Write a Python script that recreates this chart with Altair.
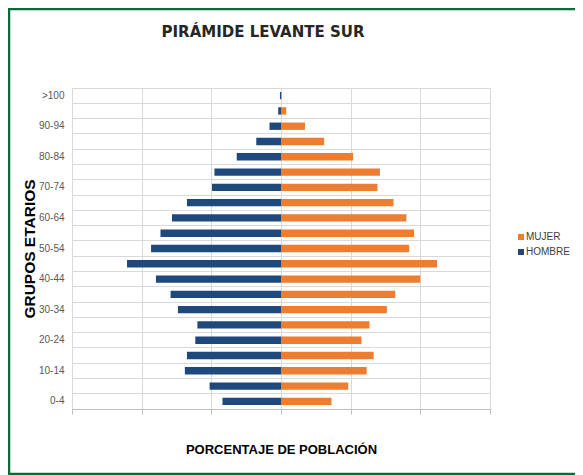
import altair as alt
import pandas as pd

ages = ["0-4", "5-9", "10-14", "15-19", "20-24", "25-29", "30-34", "35-39",
        "40-44", "45-49", "50-54", "55-59", "60-64", "65-69", "70-74", "75-79",
        "80-84", "85-89", "90-94", "95-99", ">100"]
hombre = [1.68, 2.05, 2.76, 2.70, 2.46, 2.40, 2.96, 3.17, 3.59, 4.42, 3.73,
          3.46, 3.13, 2.70, 1.98, 1.91, 1.27, 0.71, 0.33, 0.08, 0.03]
mujer = [1.45, 1.93, 2.46, 2.66, 2.31, 2.54, 3.04, 3.28, 4.00, 4.48, 3.68,
         3.82, 3.60, 3.23, 2.77, 2.84, 2.07, 1.24, 0.69, 0.15, 0.02]
shown_labels = ["0-4", "10-14", "20-24", "30-34", "40-44", "50-54", "60-64",
                "70-74", "80-84", "90-94", ">100"]
x_ticks = [-6, -4, -2, 0, 2, 4, 6]
series = ["MUJER", "HOMBRE"]
colors = ["#ED7D31", "#1F497D"]

rows = []
for a, h, m in zip(ages, hombre, mujer):
    rows.append({"edad": a, "sexo": "HOMBRE", "valor": -h})
    rows.append({"edad": a, "sexo": "MUJER", "valor": m})
df = pd.DataFrame(rows)

order = list(reversed(ages))
W, H = 418, 321
LABEL_FONT = "'Liberation Sans Narrow', 'Liberation Sans', Arial, sans-serif"
BOLD_FONT = "'Liberation Sans', Arial, sans-serif"
GREEN = "#0B6B36"

xscale = alt.Scale(domain=[-6, 6])

bars = alt.Chart(df).mark_bar().encode(
    x=alt.X("valor:Q", scale=xscale,
            axis=alt.Axis(values=x_ticks, labels=False, grid=True, gridColor="#D9D9D9",
                          ticks=True, tickSize=5, tickColor="#BFBFBF",
                          domain=True, domainColor="#BFBFBF",
                          title="PORCENTAJE DE POBLACIÓN", titleFont=BOLD_FONT,
                          titleFontSize=13, titleFontWeight="bold", titleColor="#000000",
                          titleX=W / 2, titleY=40, titleBaseline="middle",
                          titleAlign="center")),
    y=alt.Y("edad:N", sort=order,
            scale=alt.Scale(paddingInner=0.52, paddingOuter=0.26),
            axis=alt.Axis(values=shown_labels, grid=False, ticks=False, tickSize=0,
                          domain=False, labelPadding=8, labelFont=LABEL_FONT,
                          labelFontSize=10, labelColor="#595959",
                          title="GRUPOS ETARIOS", titleFont=BOLD_FONT,
                          titleFontSize=15.5, titleFontWeight="bold", titleColor="#000000",
                          titleX=-43, titleY=H / 2, titleAngle=-90,
                          titleAlign="center", titleBaseline="middle")),
    color=alt.Color("sexo:N", scale=alt.Scale(domain=series, range=colors),
                    legend=alt.Legend(title=None, orient="none", legendX=444, legendY=144,
                                      symbolType="square", symbolSize=36,
                                      symbolStrokeWidth=0, labelFont=LABEL_FONT,
                                      labelFontSize=10, labelColor="#404040",
                                      labelOffset=0, rowPadding=5, padding=0)),
)

grid_layer = alt.Chart(df).mark_tick(opacity=0).encode(
    x=alt.X("valor:Q", scale=xscale),
    y=alt.Y("edad:N", sort=order,
            scale=alt.Scale(paddingInner=0, paddingOuter=0),
            axis=alt.Axis(orient="right", labels=False, ticks=False, domain=False,
                          grid=True, gridColor="#D9D9D9", bandPosition=0, title=None)),
)

one = pd.DataFrame({"k": [0]})
border_left = alt.Chart(one).mark_rule(color=GREEN, strokeWidth=2.5).encode(
    x=alt.value(-63), y=alt.value(-80), y2=alt.value(387))
border_top = alt.Chart(one).mark_rule(color=GREEN, strokeWidth=2.5).encode(
    x=alt.value(-64), x2=alt.value(503), y=alt.value(-79))
border_bottom = alt.Chart(one).mark_rule(color=GREEN, strokeWidth=2.5).encode(
    x=alt.value(-64), x2=alt.value(503), y=alt.value(386))

chart = alt.layer(grid_layer, bars, border_left, border_top, border_bottom).resolve_scale(
    y="independent"
).resolve_axis(y="independent").properties(
    width=W, height=H,
    autosize=alt.AutoSizeParams(type="none"),
    padding={"left": 64, "top": 80, "right": 85, "bottom": 66},
    title=alt.TitleParams("PIRÁMIDE LEVANTE SUR", font="DejaVu Sans", fontSize=15,
                          fontWeight="bold", color="#262626", anchor="middle",
                          frame="group", dx=-18, dy=45, offset=0, baseline="alphabetic"),
).configure_view(stroke=None).configure(background="white")

chart.save("out.html", embed_options={"renderer": "svg", "actions": False})
